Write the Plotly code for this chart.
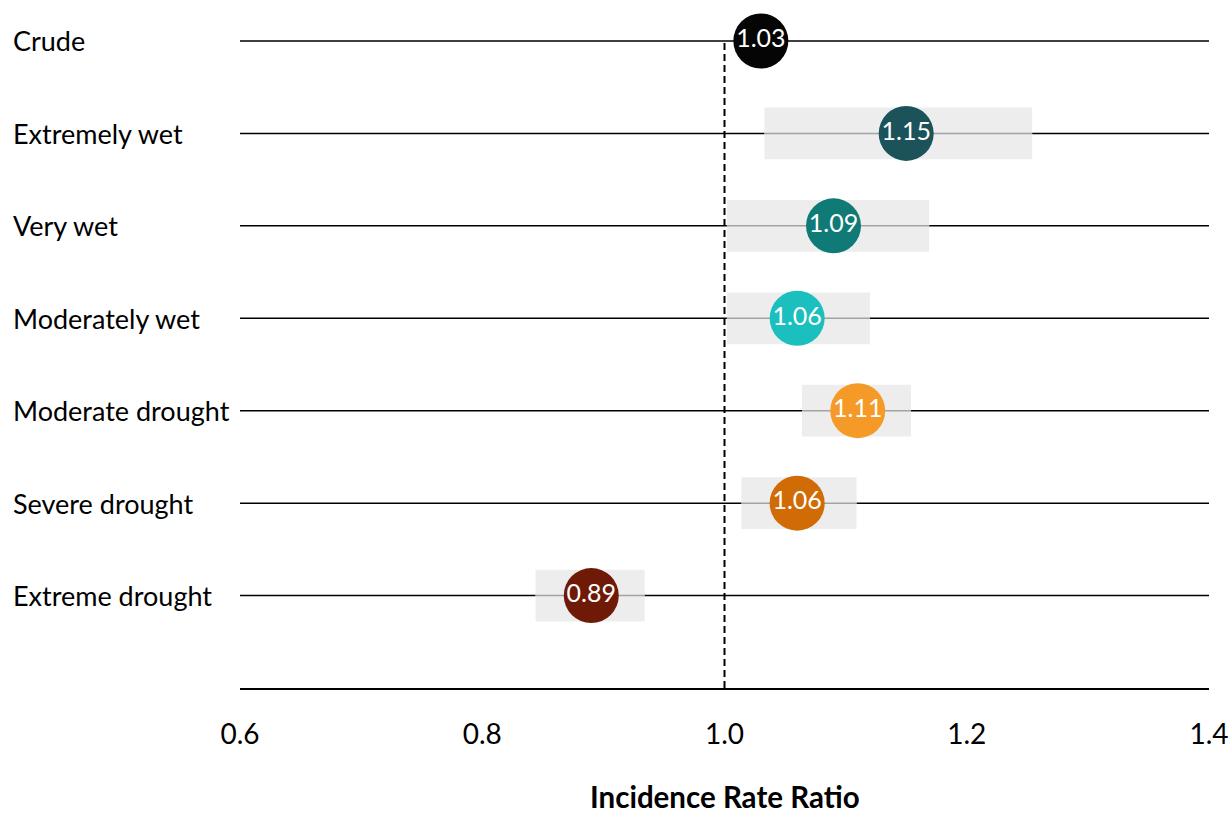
import plotly.graph_objects as go

# Incidence rate ratios by precipitation category, with 95% confidence intervals
categories = ["Crude", "Extremely wet", "Very wet", "Moderately wet",
              "Moderate drought", "Severe drought", "Extreme drought"]
irr = [1.03, 1.15, 1.09, 1.06, 1.11, 1.06, 0.89]
ci_low = [1.025, 1.033, 1.002, 1.002, 1.064, 1.014, 0.844]
ci_high = [1.035, 1.254, 1.169, 1.120, 1.154, 1.109, 0.934]
colors = ["#050505", "#1C535A", "#0F7A76", "#1ABFBE",
          "#F59A27", "#D06B06", "#6F1A07"]
x_ticks = [0.6, 0.8, 1.0, 1.2, 1.4]
x_title = "Incidence Rate Ratio"

FONT = "Lato"
n = len(categories)
# top row gets the highest y value; y = 0 is the axis baseline
ypos = [n - i for i in range(n)]
half_h = 0.28

fig = go.Figure()
shapes = []
annotations = []

for cat, y, lo, hi in zip(categories, ypos, ci_low, ci_high):
    # row guide line
    shapes.append(dict(type="line", xref="x", yref="y", x0=0.6, x1=1.4, y0=y, y1=y,
                       line=dict(color="black", width=1.5), layer="below"))
    # confidence interval band
    shapes.append(dict(type="rect", xref="x", yref="y", x0=lo, x1=hi,
                       y0=y - half_h, y1=y + half_h,
                       fillcolor="#EDEDED", line=dict(width=0), layer="below"))
    shapes.append(dict(type="line", xref="x", yref="y", x0=lo, x1=hi, y0=y, y1=y,
                       line=dict(color="#A3A3A3", width=1.5), layer="below"))
    annotations.append(dict(text=cat, xref="paper", yref="y", x=-0.236, y=y,
                            xanchor="left", yanchor="middle", showarrow=False,
                            font=dict(family=FONT, size=27, color="black")))

# axis title
annotations.append(dict(text=f"<b>{x_title}</b>", xref="paper", yref="paper",
                        x=0.5, y=-0.1593, xanchor="center", yanchor="middle",
                        showarrow=False,
                        font=dict(family=FONT, size=29.5, color="black")))

# reference line at IRR = 1
shapes.append(dict(type="line", xref="x", yref="y", x0=1.0, x1=1.0, y0=0, y1=ypos[0],
                   line=dict(color="black", width=2, dash="7px,4px"), layer="below"))

fig.add_trace(go.Scatter(
    x=irr, y=ypos, mode="markers+text",
    marker=dict(size=55, color=colors, line=dict(width=0)),
    text=[f"{v:.2f}" for v in irr], textposition="middle center",
    textfont=dict(family=FONT, size=25, color="white"),
    hoverinfo="skip", showlegend=False, cliponaxis=False,
))

fig.update_layout(
    width=1232, height=813,
    margin=dict(l=240, r=23, t=10, b=125),
    paper_bgcolor="white", plot_bgcolor="white",
    shapes=shapes, annotations=annotations,
    xaxis=dict(range=[0.6, 1.4], tickvals=x_ticks,
               ticktext=[f"{v:.1f}" for v in x_ticks],
               showgrid=False, zeroline=False, showline=True,
               linecolor="black", linewidth=1.5, ticks="",
               automargin=False,
               tickfont=dict(family=FONT, size=28, color="black"),
               ticklabelstandoff=21),
    yaxis=dict(range=[0, 7.335], showgrid=False, zeroline=False,
               showticklabels=False, showline=False, automargin=False),
)

fig.write_html("out.html")
